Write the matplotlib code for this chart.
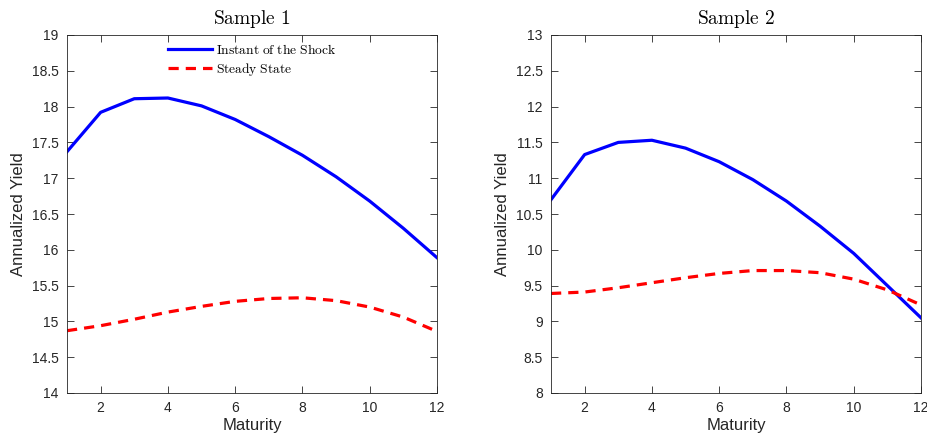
import matplotlib
matplotlib.use("Agg")
import matplotlib.pyplot as plt
import numpy as np

maturity = list(range(1, 13))
s1_shock = [17.37, 17.92, 18.11, 18.12, 18.01, 17.82, 17.58, 17.32, 17.02, 16.68, 16.30, 15.89]
s1_steady = [14.87, 14.94, 15.03, 15.13, 15.21, 15.28, 15.32, 15.33, 15.29, 15.20, 15.06, 14.86]
s2_shock = [10.70, 11.33, 11.50, 11.53, 11.42, 11.23, 10.98, 10.68, 10.33, 9.95, 9.50, 9.05]
s2_steady = [9.39, 9.41, 9.47, 9.54, 9.61, 9.67, 9.71, 9.71, 9.68, 9.59, 9.44, 9.23]
titles = ["Sample 1", "Sample 2"]
ylims = [(14, 19), (8, 13)]
yticks1 = [14, 14.5, 15, 15.5, 16, 16.5, 17, 17.5, 18, 18.5, 19]
yticks2 = [8, 8.5, 9, 9.5, 10, 10.5, 11, 11.5, 12, 12.5, 13]
xticks = [2, 4, 6, 8, 10, 12]

plt.rcParams['font.family'] = ['Liberation Sans', 'DejaVu Sans']
plt.rcParams['mathtext.fontset'] = 'cm'

fig = plt.figure(figsize=(9.28, 4.43), dpi=100)
ax1 = fig.add_axes([67/928, 50/443, 370/928, 358/443])
ax2 = fig.add_axes([551/928, 50/443, 370/928, 358/443])

axc = '#262626'
for ax, shock, steady, title, yl, yt in [(ax1, s1_shock, s1_steady, titles[0], ylims[0], yticks1),
                                          (ax2, s2_shock, s2_steady, titles[1], ylims[1], yticks2)]:
    ax.plot(maturity, shock, color='#0000ff', lw=2.3, label=r'$\mathrm{Instant\ of\ the\ Shock}$')
    ax.plot(maturity, steady, color='#ff0000', lw=2.3, ls=(0, (3.2, 2.2)), label=r'$\mathrm{Steady\ State}$')
    ax.set_xlim(1, 12)
    ax.set_ylim(*yl)
    ax.set_yticks(yt)
    ax.set_yticklabels([f"{v:g}" for v in yt])
    ax.set_xticks(xticks)
    ax.tick_params(direction='in', top=True, right=True, length=5, width=0.6,
                   labelsize=10, colors=axc, labelcolor=axc, pad=6)
    for sp in ax.spines.values():
        sp.set_color(axc)
        sp.set_linewidth(0.6)
    ax.set_xlabel('Maturity', fontsize=12, color=axc, labelpad=2)
    ax.set_ylabel('Annualized Yield', fontsize=12, color=axc, labelpad=4)
    ax.set_title(r'$\mathrm{' + title.replace(' ', r'\ ') + '}$', fontsize=14, pad=8)

leg = ax1.legend(loc='upper center', bbox_to_anchor=(0.5, 1.0), frameon=False,
                 fontsize=9.7, handlelength=3.3, handletextpad=0.3, labelspacing=0.3,
                 borderaxespad=0.2)

fig.savefig('out.png', dpi=100)
